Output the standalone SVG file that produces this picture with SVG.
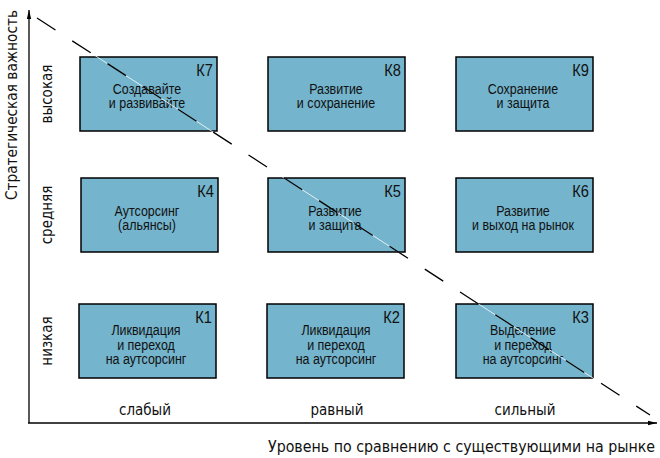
<svg xmlns="http://www.w3.org/2000/svg" width="660" height="458" viewBox="0 0 660 458">
<style>
text{font-family:"Liberation Sans Narrow","DejaVu Sans Condensed","Liberation Sans",sans-serif;fill:#111}
.t,.k{font-family:"Liberation Sans",Arial,sans-serif}
.box{fill:#74b4cc;stroke:#000;stroke-width:1.5}
.t{font-size:14.5px;text-anchor:middle}
.k{font-size:17px;text-anchor:end}
.ax{stroke:#000;stroke-width:1.3;fill:none}
.lbl{font-size:15px;text-anchor:middle}
</style>
<defs>
<marker id="arr" markerWidth="10" markerHeight="6" refX="9" refY="3" orient="auto" markerUnits="userSpaceOnUse">
<path d="M0,0.8 L9,3 L0,5.2 Z" fill="#000"/>
</marker>
</defs>
<rect width="660" height="458" fill="#fff"/>
<g id="axes">
<line class="ax" x1="29" y1="423" x2="29" y2="10" marker-end="url(#arr)"/>
<line class="ax" x1="28" y1="423" x2="657" y2="423" marker-end="url(#arr)"/>
<text class="lbl" transform="translate(17,105) rotate(-90)" textLength="190" lengthAdjust="spacingAndGlyphs">Стратегическая важность</text>
<text class="lbl" x="461.5" y="452" textLength="387" lengthAdjust="spacingAndGlyphs">Уровень по сравнению с существующими на рынке</text>
<text class="lbl" transform="translate(52,94) rotate(-90)">высокая</text>
<text class="lbl" transform="translate(52,215) rotate(-90)">средняя</text>
<text class="lbl" transform="translate(52,341) rotate(-90)">низкая</text>
<text class="lbl" x="145" y="415">слабый</text>
<text class="lbl" x="337" y="415">равный</text>
<text class="lbl" x="525" y="415">сильный</text>
</g>
<g id="K7"><rect class="box" x="80" y="57" width="137" height="74"/><text class="k" transform="matrix(0.86 0 0 1 213 76)">К7</text><text class="t" transform="matrix(0.86 0 0 1 147 94)">Создавайте</text><text class="t" transform="matrix(0.86 0 0 1 147 108)">и развивайте</text></g>
<g id="K8"><rect class="box" x="268" y="57" width="137" height="74"/><text class="k" transform="matrix(0.86 0 0 1 401 76)">К8</text><text class="t" transform="matrix(0.86 0 0 1 336 94)">Развитие</text><text class="t" transform="matrix(0.86 0 0 1 336 108)">и сохранение</text></g>
<g id="K9"><rect class="box" x="456" y="57" width="137" height="74"/><text class="k" transform="matrix(0.86 0 0 1 589 76)">К9</text><text class="t" transform="matrix(0.86 0 0 1 523 94)">Сохранение</text><text class="t" transform="matrix(0.86 0 0 1 523 108)">и защита</text></g>
<g id="K4"><rect class="box" x="81" y="178" width="137" height="74"/><text class="k" transform="matrix(0.86 0 0 1 214 197)">К4</text><text class="t" transform="matrix(0.86 0 0 1 147 216)">Аутсорсинг</text><text class="t" transform="matrix(0.86 0 0 1 147 230)">(альянсы)</text></g>
<g id="K5"><rect class="box" x="268" y="178" width="137" height="74"/><text class="k" transform="matrix(0.86 0 0 1 401 197)">К5</text><text class="t" transform="matrix(0.86 0 0 1 335 216)">Развитие</text><text class="t" transform="matrix(0.86 0 0 1 335 230)">и защита</text></g>
<g id="K6"><rect class="box" x="456" y="178" width="137" height="74"/><text class="k" transform="matrix(0.86 0 0 1 589 197)">К6</text><text class="t" transform="matrix(0.86 0 0 1 523 216)">Развитие</text><text class="t" transform="matrix(0.86 0 0 1 523 230)">и выход на рынок</text></g>
<g id="K1"><rect class="box" x="79" y="304" width="137" height="74"/><text class="k" transform="matrix(0.86 0 0 1 212 323)">К1</text><text class="t" transform="matrix(0.86 0 0 1 146 335)">Ликвидация</text><text class="t" transform="matrix(0.86 0 0 1 146 349.5)">и переход</text><text class="t" transform="matrix(0.86 0 0 1 146 364)">на аутсорсинг</text></g>
<g id="K2"><rect class="box" x="267" y="304" width="137" height="74"/><text class="k" transform="matrix(0.86 0 0 1 400 323)">К2</text><text class="t" transform="matrix(0.86 0 0 1 336 335)">Ликвидация</text><text class="t" transform="matrix(0.86 0 0 1 336 349.5)">и переход</text><text class="t" transform="matrix(0.86 0 0 1 336 364)">на аутсорсинг</text></g>
<g id="K3"><rect class="box" x="456" y="304" width="137" height="74"/><text class="k" transform="matrix(0.86 0 0 1 589 323)">К3</text><text class="t" transform="matrix(0.86 0 0 1 523 335)">Выделение</text><text class="t" transform="matrix(0.86 0 0 1 523 349.5)">и переход</text><text class="t" transform="matrix(0.86 0 0 1 523 364)">на аутсорсинг</text></g>
<g id="connectors">
<line x1="37" y1="18" x2="650" y2="415" stroke="#fff" stroke-opacity="0.8" stroke-width="1"/>
<line x1="37" y1="18" x2="650" y2="415" stroke="#000" stroke-width="1.3" stroke-dasharray="22 20"/>
</g>
</svg>
